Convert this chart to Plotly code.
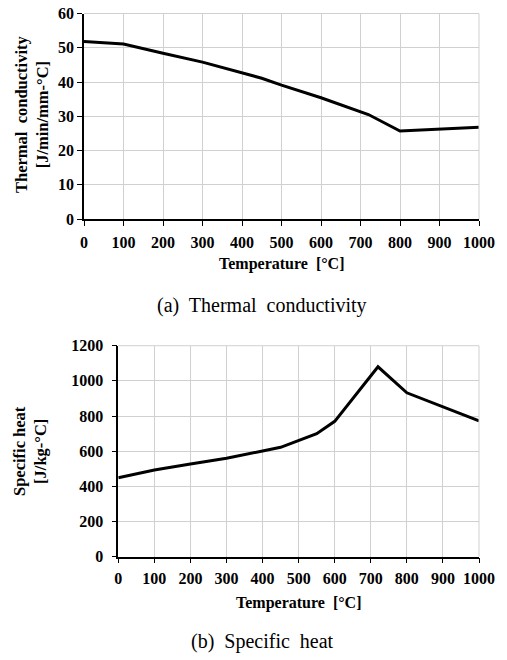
import plotly.graph_objects as go

# Data
temp_k = [0, 100, 200, 300, 450, 500, 600, 720, 800, 1000]
conductivity = [51.8, 51.1, 48.4, 45.8, 41.1, 39.1, 35.4, 30.5, 25.7, 26.8]

temp_c = [0, 100, 200, 300, 400, 450, 550, 600, 720, 800, 1000]
specific_heat = [449, 493, 527, 560, 601, 622, 700, 770, 1080, 932, 772]

x_ticks = list(range(0, 1001, 100))
W, H = 507, 660

def px_x(p):
    return p / W

def px_y(p):
    return 1 - p / H

SERIF = "Liberation Serif"
tick_font = dict(family=SERIF, size=16, color="black", weight="bold")
grid_col = "#d0d0d0"

fig = go.Figure()
fig.add_trace(go.Scatter(x=temp_k, y=conductivity, mode="lines",
                         line=dict(color="black", width=3), xaxis="x", yaxis="y",
                         showlegend=False))
fig.add_trace(go.Scatter(x=temp_c, y=specific_heat, mode="lines",
                         line=dict(color="black", width=3), xaxis="x2", yaxis="y2",
                         showlegend=False))

common_x = dict(range=[0, 1000], tickvals=x_ticks, showgrid=True, gridcolor=grid_col,
                gridwidth=1, showline=True, linecolor="black", linewidth=1.5,
                ticks="outside", ticklen=5, tickcolor="black", tickwidth=1,
                zeroline=False, tickfont=tick_font, automargin=False)
common_y = dict(showgrid=True, gridcolor=grid_col, gridwidth=1, showline=True,
                linecolor="black", linewidth=1.5, ticks="outside", ticklen=5,
                tickcolor="black", tickwidth=1, zeroline=False, tickfont=tick_font,
                automargin=False)

fig.update_layout(
    width=W, height=H,
    margin=dict(l=0, r=0, t=0, b=0, autoexpand=False),
    paper_bgcolor="white", plot_bgcolor="white",
    xaxis=dict(common_x, domain=[px_x(84), px_x(479)], anchor="y",
               ticklabelstandoff=3),
    yaxis=dict(common_y, domain=[px_y(219), px_y(13.5)], anchor="x",
               range=[0, 60], dtick=10, ticklabelstandoff=0),
    xaxis2=dict(common_x, domain=[px_x(118.3), px_x(479)], anchor="y2",
                ticklabelstandoff=1),
    yaxis2=dict(common_y, domain=[px_y(556.7), px_y(345.7)], anchor="x2",
                range=[0, 1200], dtick=200, ticklabelstandoff=5),
)

# Top/right border drawn as grey lines to match the grid frame
for xa, ya in (("x", "y"), ("x2", "y2")):
    fig.add_shape(type="line", xref=f"{xa} domain", yref=f"{ya} domain",
                  x0=0, x1=1, y0=1, y1=1, line=dict(color=grid_col, width=1))
    fig.add_shape(type="line", xref=f"{xa} domain", yref=f"{ya} domain",
                  x0=1, x1=1, y0=0, y1=1, line=dict(color=grid_col, width=1))

bold = dict(family=SERIF, size=16, color="black")
ybold = dict(family=SERIF, size=16.5, color="black")
annots = [
    dict(text="<b>Temperature&nbsp; [°C]</b>", x=px_x(281), y=px_y(264), font=bold),
    dict(text="<b>Temperature&nbsp; [°C]</b>", x=px_x(298), y=px_y(603), font=bold),
    dict(text="(a)&nbsp; Thermal&nbsp; conductivity", x=px_x(262), y=px_y(305),
         font=dict(family=SERIF, size=20, color="black")),
    dict(text="(b)&nbsp; Specific&nbsp; heat", x=px_x(262), y=px_y(641),
         font=dict(family=SERIF, size=20, color="black")),
    dict(text="<b>Thermal&nbsp; conductivity<br>[J/min/mm-°C]</b>", x=px_x(32),
         y=px_y(115), textangle=-90, font=ybold),
    dict(text="<b>Specific heat<br>[J/kg-°C]</b>", x=px_x(30), y=px_y(451),
         textangle=-90, font=ybold),
]
for a in annots:
    fig.add_annotation(xref="paper", yref="paper", showarrow=False,
                       xanchor="center", yanchor="middle", **a)

fig.write_html("out.html", config={"displayModeBar": False},
               post_script="document.body.style.margin='0';document.body.style.overflow='hidden';")
